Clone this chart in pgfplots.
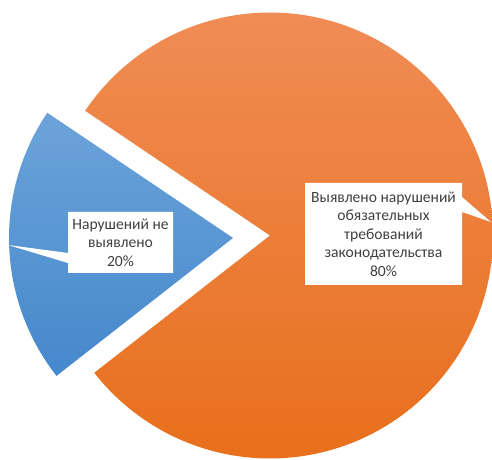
\documentclass[border=0pt]{standalone}
\usepackage{pgfplots}
\pgfplotsset{compat=1.18}
\usepackage{pgfplotstable}
\usepackage{fontspec}
\setmainfont{Carlito}
\definecolor{txt}{HTML}{404040}
\definecolor{bluetop}{HTML}{6CA3DA}
\definecolor{bluebot}{HTML}{4588CC}
\definecolor{orgtop}{HTML}{F08C55}
\definecolor{orgbot}{HTML}{E86F1C}
\pgfplotstableread{
label value
none 20
found 80
}\piedata
\begin{document}
\begin{tikzpicture}
\pgfplotstablegetelem{0}{value}\of\piedata \let\vA\pgfplotsretval
\pgfplotstablegetelem{1}{value}\of\piedata \let\vB\pgfplotsretval
\pgfmathsetmacro\tot{\vA+\vB}
\pgfmathsetmacro\aS{146}
\pgfmathsetmacro\aE{\aS+\vA/\tot*360}
\pgfmathsetmacro\bE{\aE+\vB/\tot*360}
\begin{axis}[width=369pt,height=345pt,scale only axis,hide axis,
  xmin=0,xmax=492,ymin=0,ymax=460,clip=true]
\addplot[draw=none, top color=bluetop, bottom color=bluebot, domain=\aS:\aE, samples=90]
  ({233+224*cos(x)},{222+224*sin(x)}) -- (axis cs:233,222) -- cycle;
\addplot[draw=none, top color=orgtop, bottom color=orgbot, domain=\aE:\bE, samples=300]
  ({270+223*cos(x)},{224.5+223*sin(x)}) -- (axis cs:270,224.5) -- cycle;
\addplot[fill=white, draw=none] coordinates {(68,248) (173,248) (173,187) (68,187) (68,197) (8,215) (68,207)} -- cycle;
\addplot[fill=white, draw=none] coordinates {(305,277) (462,277) (462,263) (491,238) (462,248) (462,175) (305,175)} -- cycle;
\node[align=center, text=txt, font=\fontsize{11.7}{13.9}\selectfont] at (axis cs:120.5,217.5) {Нарушений не\\выявлено\\20\%};
\node[align=center, text=txt, font=\fontsize{11.7}{13.9}\selectfont] at (axis cs:383.5,226) {Выявлено нарушений\\обязательных\\требований\\законодательства\\80\%};
\end{axis}
\pgfresetboundingbox
\path (current axis.south west) rectangle (current axis.north east);
\end{tikzpicture}
\end{document}
